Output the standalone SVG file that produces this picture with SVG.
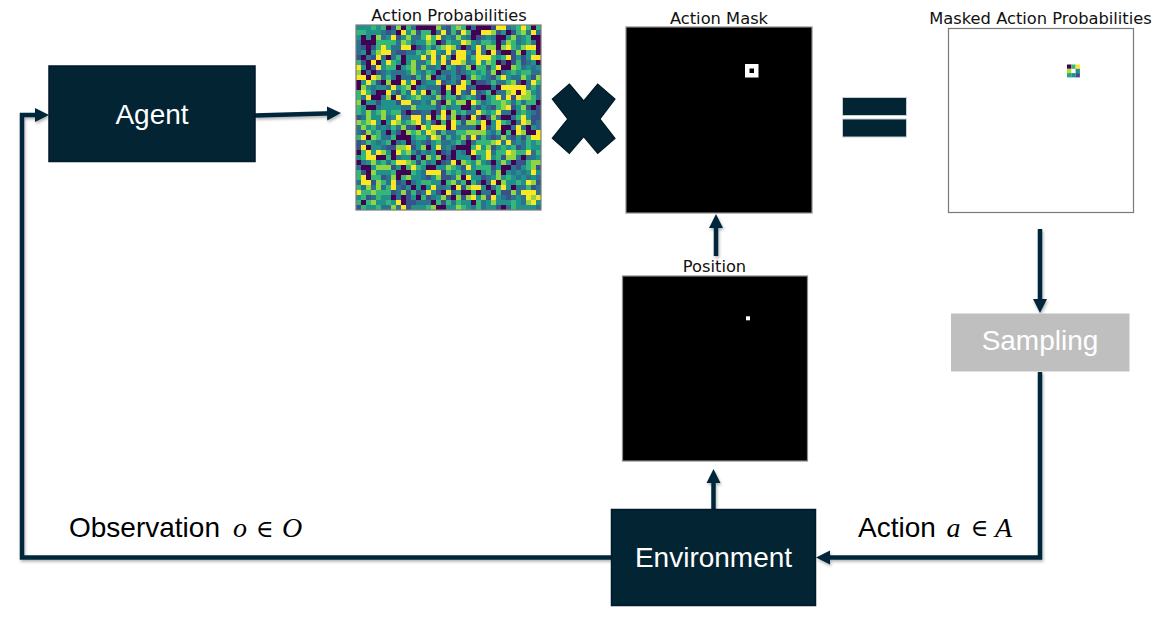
<svg xmlns="http://www.w3.org/2000/svg" width="1173" height="625" viewBox="0 0 1173 625">
<style>
.box{fill:#022433;stroke:#01192a;stroke-width:1.5}
.lbl{fill:#fff;font-family:"Liberation Sans",Arial,sans-serif;font-size:28px;text-anchor:middle}
.txt{fill:#000;font-family:"Liberation Sans",Arial,sans-serif;font-size:28px}
.mi{font-family:"Liberation Serif","Times New Roman",serif;font-style:italic;font-size:28px;fill:#000}
.el{font-family:"DejaVu Serif",serif;font-size:24px;fill:#000;text-anchor:middle}
.title{fill:#111;font-family:"DejaVu Sans",sans-serif;font-size:16.3px;text-anchor:middle}
.frame{fill:none;stroke:#7a7a7a;stroke-width:1.2}
.conn{fill:none;stroke:#03273a;stroke-width:4.5;stroke-linejoin:miter}
.sym{fill:#022433;stroke:#011a27;stroke-width:1.2}
</style>
<defs>
<marker id="ah" markerUnits="userSpaceOnUse" markerWidth="15" markerHeight="15" refX="6" refY="7.5" orient="auto">
<path d="M0,0.5 L14,7.5 L0,14.5 z" fill="#03273a"/>
</marker>
<filter id="sh" filterUnits="userSpaceOnUse" x="0" y="0" width="1173" height="625">
<feDropShadow dx="1" dy="2" stdDeviation="1.5" flood-color="#000" flood-opacity="0.3"/>
</filter>
<filter id="noise" x="356" y="25" width="185" height="185" filterUnits="userSpaceOnUse" primitiveUnits="userSpaceOnUse" color-interpolation-filters="sRGB">
<feFlood x="358" y="27" width="1" height="1" flood-color="#fff" result="dot"/>
<feComposite in="dot" in2="dot" operator="over" x="356" y="25" width="5" height="5" result="cell"/>
<feTile in="cell" result="grid"/>
<feTurbulence type="fractalNoise" baseFrequency="0.37" numOctaves="1" seed="11" result="n"/>
<feColorMatrix in="n" type="matrix" values="2.8 0 0 0 -0.9  2.8 0 0 0 -0.9  2.8 0 0 0 -0.9  0 0 0 0 1" result="gray"/>
<feComposite in="gray" in2="grid" operator="in" result="samp"/>
<feMorphology in="samp" operator="dilate" radius="2" result="pix"/>
<feComponentTransfer in="pix">
<feFuncR type="discrete" tableValues="0.267 0.231 0.173 0.129 0.208 0.565 0.992"/>
<feFuncG type="discrete" tableValues="0.005 0.322 0.447 0.569 0.718 0.843 0.906"/>
<feFuncB type="discrete" tableValues="0.329 0.545 0.557 0.549 0.475 0.263 0.145"/>
</feComponentTransfer>
</filter>
</defs>
<rect width="1173" height="625" fill="#fff"/>

<g id="connectors" filter="url(#sh)">
<path class="conn" marker-end="url(#ah)" d="M255,115.5 L333,113.3"/>
<path class="conn" marker-end="url(#ah)" d="M716,256 L716,222"/>
<path class="conn" marker-end="url(#ah)" d="M713.5,509 L713.5,477"/>
<path class="conn" marker-end="url(#ah)" d="M1040,229 L1040,305"/>
<path class="conn" marker-end="url(#ah)" d="M1040,372 L1040,557.5 L824,557.5"/>
<path class="conn" marker-end="url(#ah)" d="M611,557.5 L22,557.5 L22,115 L41,115"/>
</g>

<g id="agent">
<rect class="box" x="49" y="66" width="206" height="95.5"/>
<text class="lbl" x="152" y="123.5">Agent</text>
</g>

<g id="action-probabilities">
<text class="title" x="449" y="20.7">Action Probabilities</text>
<rect x="356" y="25" width="185" height="185" fill="#21918c" filter="url(#noise)"/>
<rect class="frame" x="356" y="25" width="185" height="185"/>
</g>

<g id="multiply">
<polygon class="sym" points="569.3,84 583.7,101 597.7,84 615,99 600,119 615,138.3 597.7,153.3 583.7,136.7 569.3,153.3 552.3,138.3 567.7,119 552.3,99"/>
</g>

<g id="action-mask">
<text class="title" x="719" y="24">Action Mask</text>
<rect x="626" y="27" width="186" height="186" fill="#000" stroke="#8a8a8a" stroke-width="1.2"/>
<rect x="745" y="64" width="13.5" height="13.5" fill="#fff"/>
<rect x="749.5" y="68.5" width="4.5" height="4.5" fill="#000"/>
</g>

<g id="equals">
<rect x="842.5" y="97.5" width="64" height="18" fill="#022433" stroke="#c5ced4" stroke-width="1"/>
<rect x="842.5" y="119" width="64" height="18" fill="#022433" stroke="#c5ced4" stroke-width="1"/>
</g>

<g id="masked-action-probabilities">
<text class="title" x="1040.5" y="24">Masked Action Probabilities</text>
<rect x="948.5" y="28.5" width="185" height="184" fill="#fff" stroke="#7a7a7a" stroke-width="1.2"/>
<rect x="1067" y="64.5" width="4.3" height="4.3" fill="#440154"/>
<rect x="1071.3" y="64.5" width="4.3" height="4.3" fill="#35b779"/>
<rect x="1075.6" y="64.5" width="4.3" height="4.3" fill="#fde725"/>
<rect x="1067" y="68.8" width="4.3" height="4.3" fill="#b5de2b"/>
<rect x="1075.6" y="68.8" width="4.3" height="4.3" fill="#21918c"/>
<rect x="1067" y="73.1" width="4.3" height="4.3" fill="#22a884"/>
<rect x="1071.3" y="73.1" width="4.3" height="4.3" fill="#21918c"/>
<rect x="1075.6" y="73.1" width="4.3" height="4.3" fill="#3b528b"/>
</g>

<g id="position">
<text class="title" x="714.5" y="272">Position</text>
<rect x="622.5" y="276" width="185" height="185" fill="#000" stroke="#8a8a8a" stroke-width="1.2"/>
<rect x="746" y="316.3" width="4" height="4" fill="#fff"/>
</g>

<g id="sampling">
<rect x="951" y="313.5" width="178.5" height="58" fill="#bfbfbf"/>
<text class="lbl" x="1040" y="350">Sampling</text>
</g>

<g id="environment">
<rect class="box" x="611.5" y="509.5" width="204" height="96"/>
<text class="lbl" x="713.5" y="567">Environment</text>
</g>

<g id="labels">
<text class="txt" x="69" y="537.3">Observation</text>
<text class="mi" x="233" y="537.3">o</text>
<text class="el" x="265" y="536.5">∈</text>
<text class="mi" x="282" y="537.3">O</text>
<text class="txt" x="858" y="536.7">Action</text>
<text class="mi" x="946.5" y="536.7">a</text>
<text class="el" x="979.7" y="536">∈</text>
<text class="mi" x="995" y="536.7">A</text>
</g>
</svg>
